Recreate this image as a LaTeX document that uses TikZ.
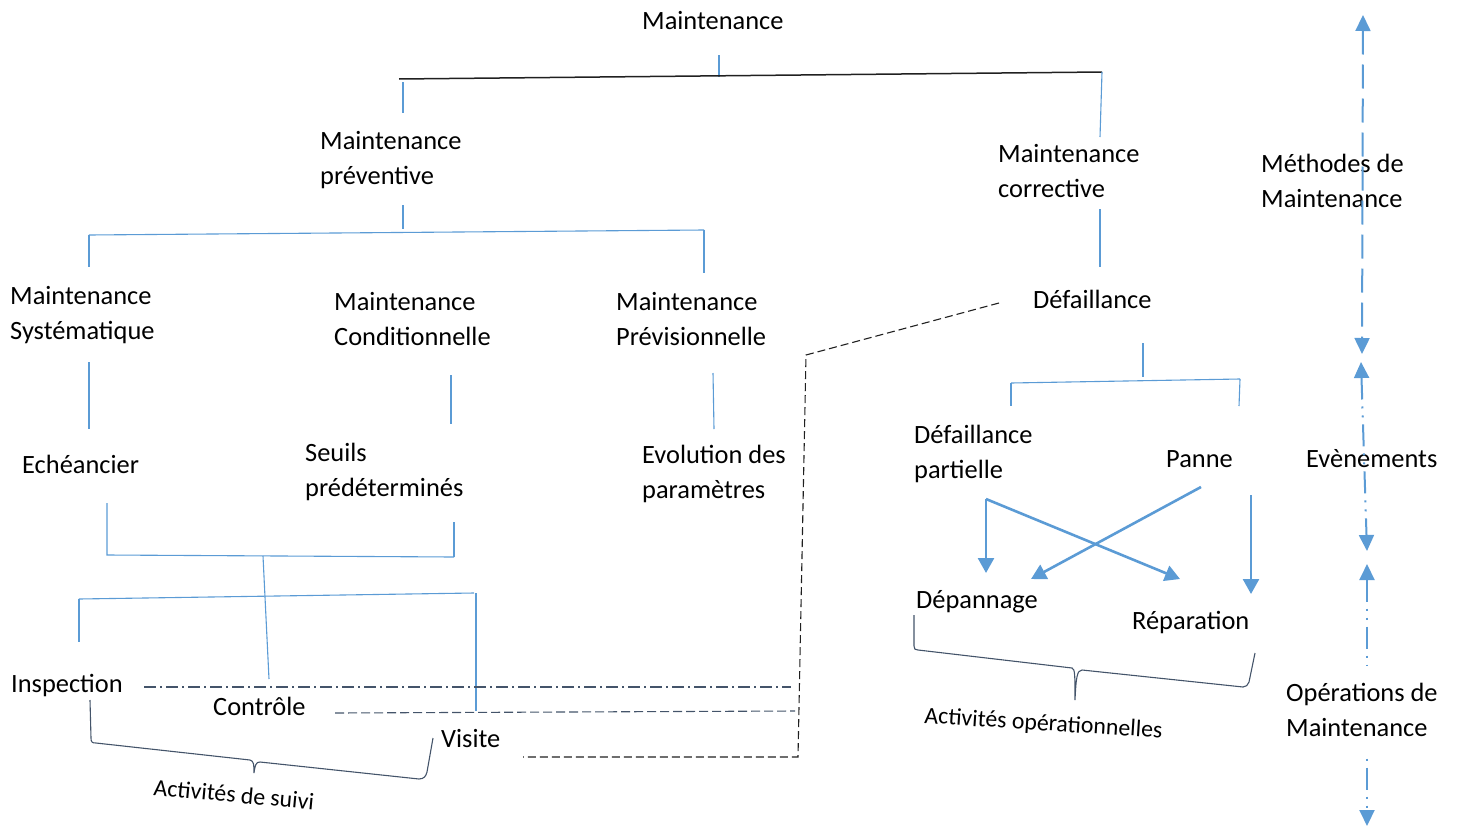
\documentclass[tikz,border=0pt]{standalone}
\usepackage{fontspec}
\setmainfont{Carlito}
\usetikzlibrary{arrows.meta}
\definecolor{lblue}{HTML}{5B9BD5}
\definecolor{slate}{HTML}{44546A}
\definecolor{ink}{HTML}{202020}
\begin{document}
\begin{tikzpicture}[x=1pt,y=-1pt,
  lbl/.style={anchor=base west, inner sep=0pt, align=left, font=\fontsize{26.4}{35}\selectfont},
  brlbl/.style={anchor=base west, inner sep=0pt, font=\fontsize{23.8}{28}\selectfont},
  tree/.style={draw=lblue, line width=1.1pt},
  toptree/.style={draw=ink, line width=1.5pt},
  bigarrow/.style={draw=lblue, line width=2.6pt, -{Triangle[length=15pt,width=16pt]}},
  vaxis/.style={draw=lblue, line width=2pt, {Triangle[length=16pt,width=15pt]}-{Triangle[length=16pt,width=15pt]}},
  longdash/.style={dash pattern=on 24pt off 10pt},
  dashdotdot/.style={dash pattern=on 22pt off 7pt on 2pt off 7pt on 2pt off 7pt},
  brace/.style={draw=slate, line width=1.1pt},
  linkdash/.style={draw=ink, line width=1.1pt, dash pattern=on 8pt off 4pt},
  linkdashb/.style={draw=slate, line width=1.1pt, dash pattern=on 9pt off 4pt},
  linkdashdot/.style={draw=slate, line width=1.1pt, dash pattern=on 12pt off 4pt on 2pt off 4pt}
]
\useasboundingbox (0,0) rectangle (1461,827);

% ---------- texts (base = baseline of last line) ----------
\node[lbl] (root) at (642,29) {Maintenance};
\node[lbl] (prev) at (320,184) {Maintenance\\préventive};
\node[lbl] (corr) at (998,197) {Maintenance\\corrective};
\node[lbl] (meth) at (1261,207) {Méthodes de\\Maintenance};
\node[lbl] (syst) at (10,339) {Maintenance\\Systématique};
\node[lbl] (cond) at (334,345) {Maintenance\\Conditionnelle};
\node[lbl] (previs) at (616,345) {Maintenance\\Prévisionnelle};
\node[lbl] (def) at (1033,308) {Défaillance};
\node[lbl] (ech) at (22,473) {Echéancier};
\node[lbl] (seuils) at (305,496) {Seuils\\prédéterminés};
\node[lbl] (evol) at (642,498) {Evolution des\\paramètres};
\node[lbl] (defp) at (914,478) {Défaillance\\partielle};
\node[lbl] (panne) at (1166,467) {Panne};
\node[lbl] (even) at (1306,467) {Evènements};
\node[lbl] (depan) at (916,608) {Dépannage};
\node[lbl] (repar) at (1132,629) {Réparation};
\node[lbl] (insp) at (11,692) {Inspection};
\node[lbl] (ctrl) at (213,715) {Contrôle};
\node[lbl] (visite) at (441,747) {Visite};
\node[brlbl, rotate=-5.3] (suivi) at (153,795) {Activités de suivi};
\node[brlbl, rotate=-3.6] (opact) at (924,723) {Activités opérationnelles};

% ---------- tree coordinates ----------
\coordinate (tA) at (719,55);   \coordinate (tB) at (719,77);
\coordinate (hL) at (399,79);   \coordinate (hR) at (1102,72);
\coordinate (pA) at (403,82);   \coordinate (pB) at (403,113);
\coordinate (cB) at (1100,137);
\coordinate (pC) at (403,205);  \coordinate (pD) at (403,229);
\coordinate (h2L) at (89,235);  \coordinate (h2R) at (704,230);
\coordinate (h2Ld) at (89,267); \coordinate (h2Rd) at (704,273);
\coordinate (cC) at (1100,209); \coordinate (cD) at (1100,267);
\coordinate (sA) at (89,362);   \coordinate (sB) at (89,429);
\coordinate (kA) at (451,375);  \coordinate (kB) at (451,424);
\coordinate (vA) at (713,373);  \coordinate (vB) at (714,429);
\coordinate (eA) at (107,503);  \coordinate (eB) at (107,555);
\coordinate (eC) at (454,557);  \coordinate (eD) at (454,522);
\coordinate (mA) at (263,556);  \coordinate (mB) at (269,679);
\coordinate (iL) at (79,599);   \coordinate (iR) at (474,593);
\coordinate (iLd) at (79,642);  \coordinate (vR) at (476,593); \coordinate (vRd) at (476,711);
\coordinate (dA) at (1143,343); \coordinate (dB) at (1143,377);
\coordinate (dL) at (1011,383); \coordinate (dR) at (1240,379);
\coordinate (dLd) at (1011,406); \coordinate (dRd) at (1239,406);

% ---------- tree lines ----------
\draw[tree] (tA) -- (tB);
\draw[toptree] (hL) -- (hR);
\draw[tree] (pA) -- (pB);
\draw[tree] (hR) -- (cB);
\draw[tree] (pC) -- (pD);
\draw[tree] (h2L) -- (h2R);
\draw[tree] (h2L) -- (h2Ld);
\draw[tree] (h2R) -- (h2Rd);
\draw[tree] (cC) -- (cD);
\draw[tree] (sA) -- (sB);
\draw[tree] (kA) -- (kB);
\draw[tree] (vA) -- (vB);
\draw[tree] (eA) -- (eB) -- (eC);
\draw[tree] (eD) -- (eC);
\draw[tree] (mA) -- (mB);
\draw[tree] (iL) -- (iR);
\draw[tree] (iL) -- (iLd);
\draw[tree] (vR) -- (vRd);
\draw[tree] (dA) -- (dB);
\draw[tree] (dL) -- (dR);
\draw[tree] (dL) -- (dLd);
\draw[tree] (dR) -- (dRd);

% ---------- operational arrows ----------
\coordinate (aP) at (986,499);
\coordinate (aPd) at (986,573);
\coordinate (aR) at (1180,579);
\coordinate (aN) at (1201,487);
\coordinate (aD) at (1031,579);
\coordinate (aN2) at (1251,495);
\coordinate (aR2) at (1251,594);
\draw[bigarrow] (aP) -- (aPd);
\draw[bigarrow] (aP) -- (aR);
\draw[bigarrow] (aN) -- (aD);
\draw[bigarrow] (aN2) -- (aR2);

% ---------- dashed links ----------
\coordinate (lA) at (999,303);
\coordinate (lB) at (806,355);
\coordinate (lC) at (798,757);
\coordinate (lD) at (523,757);
\coordinate (lE) at (144,687); \coordinate (lEr) at (791,687);
\coordinate (lF) at (335,713); \coordinate (lFr) at (795,711);
\draw[linkdash] (lA) -- (lB) -- (lC) -- (lD);
\draw[linkdashdot] (lE) -- (lEr);
\draw[linkdashb] (lF) -- (lFr);

% ---------- braces ----------
\draw[brace] (90,700) -- (91,738) .. controls (91,742) and (92,743) .. (96,743)
  -- (250,760) .. controls (254,761) and (254,765) .. (254,773)
  .. controls (255,765) and (256,762) .. (260,762)
  -- (419,779) .. controls (424,779) and (426,776) .. (427,772) -- (433,738);
\draw[brace] (914,615) -- (914,646) .. controls (914,649) and (915,650) .. (918,650)
  -- (1072,668) .. controls (1075,669) and (1075,675) .. (1075,700)
  .. controls (1076,678) and (1077,670) .. (1082,670)
  -- (1243,687) .. controls (1246,687) and (1248,685) .. (1249,682) -- (1255,653);

% ---------- right axis ----------
\coordinate (xA) at (1363,15);  \coordinate (xB) at (1362,354);
\coordinate (xC) at (1361,362); \coordinate (xD) at (1367,551);
\coordinate (xE) at (1367,564); \coordinate (xF) at (1367,826);
\draw[vaxis, longdash] (xA) -- (xB);
\draw[vaxis, dashdotdot] (xC) -- (xD);
\draw[vaxis, dashdotdot] (xE) -- (xF);
\node[lbl, fill=white, inner xsep=2pt, inner ysep=17pt] (ops) at (1284,736) {Opérations de\\Maintenance};
\end{tikzpicture}
\end{document}
